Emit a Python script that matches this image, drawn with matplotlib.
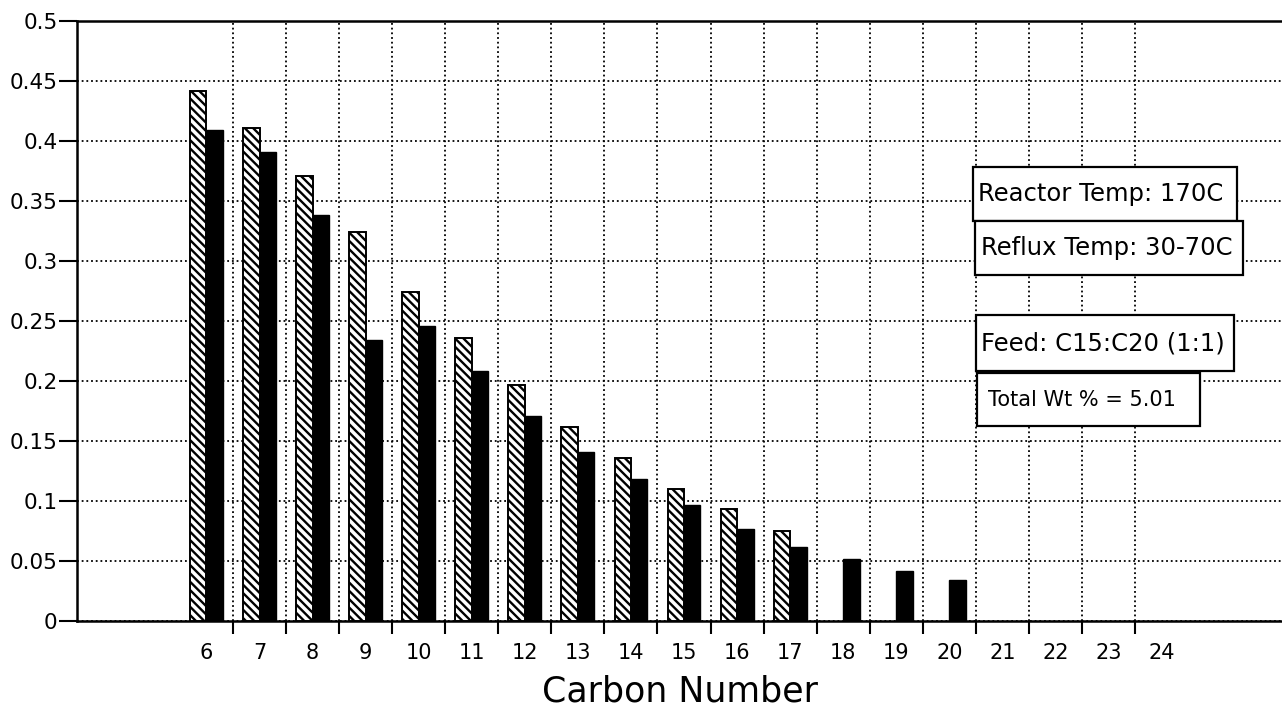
import matplotlib
matplotlib.use("Agg")
from matplotlib import pyplot as plt
from matplotlib.patches import Rectangle
from matplotlib.ticker import FixedLocator, FuncFormatter
import numpy as np

# carbon numbers shown on the axis
carbons = list(range(6, 25))

# hatched series (C6..C17) and solid black series (C6..C20)
hatched_c = list(range(6, 18))
hatched_v = [0.442, 0.411, 0.371, 0.324, 0.274, 0.236, 0.197, 0.162,
             0.136, 0.110, 0.093, 0.075]
black_c = list(range(6, 21))
black_v = [0.409, 0.391, 0.338, 0.234, 0.246, 0.208, 0.171, 0.141,
           0.118, 0.097, 0.077, 0.062, 0.052, 0.042, 0.034]

notes = ["Reactor Temp: 170C", "Reflux Temp: 30-70C",
         "Feed: C15:C20 (1:1)", "Total Wt % = 5.01"]

W, H = 1282, 708
plt.rcParams['font.family'] = ['DejaVu Sans']
plt.rcParams['hatch.linewidth'] = 1.7

fig = plt.figure(figsize=(W / 100, H / 100), dpi=100)
ax = fig.add_axes([77 / W, 1 - 621 / H, 1 - 77 / W, 600 / H])

bw = 0.31
ax.bar(np.array(hatched_c) - bw / 2, hatched_v, width=bw, color='white',
       edgecolor='black', hatch='\\\\\\\\', linewidth=1.4, zorder=3)
ax.bar(np.array(black_c) + bw / 2, black_v, width=bw, color='black',
       edgecolor='black', linewidth=1.0, zorder=3)

ax.set_xlim(3.56, 26.27)
ax.set_ylim(0, 0.5)

# labels sit at the category centres, ticks and grid between them
ax.xaxis.set_major_locator(FixedLocator(carbons))
ax.xaxis.set_minor_locator(FixedLocator(np.arange(6.5, 24, 1.0)))
ax.set_xticklabels([str(c) for c in carbons], fontsize=15)
ax.tick_params(axis='x', which='major', length=0, pad=16)
ax.tick_params(axis='x', which='minor', length=9, width=1.5, direction='out')

ax.yaxis.set_major_locator(FixedLocator(np.arange(0, 0.501, 0.05)))
ax.yaxis.set_major_formatter(FuncFormatter(lambda v, p: '%g' % round(v, 2)))
ax.tick_params(axis='y', length=13, width=1.5, pad=1, labelsize=15.5)

ax.set_axisbelow(True)
ax.grid(True, axis='y', which='major', color='black', linestyle=(0, (1, 1.6)), linewidth=1.3)
ax.grid(True, axis='x', which='minor', color='black', linestyle=(0, (1, 1.6)), linewidth=1.3)

for s in ['left', 'bottom', 'top']:
    ax.spines[s].set_linewidth(1.8)
ax.spines['right'].set_visible(False)

ax.set_xlabel('Carbon Number', fontsize=25, labelpad=8)

# annotation boxes (pixel boxes: x0, x1, y0, y1)
boxes = [(973, 1237, 167, 221), (975, 1243, 221, 275),
         (976, 1234, 315, 371), (977, 1200, 373, 426)]
sizes = [17.5, 17.5, 17.5, 15]
pads = [5, 6, 5, 11]
for (x0, x1, y0, y1), txt, fs, pd in zip(boxes, notes, sizes, pads):
    fig.add_artist(Rectangle((x0 / W, 1 - y1 / H), (x1 - x0) / W, (y1 - y0) / H,
                             transform=fig.transFigure, facecolor='white',
                             edgecolor='black', linewidth=1.6, zorder=5))
    fig.text((x0 + pd) / W, 1 - (y0 + y1) / 2 / H, txt, fontsize=fs,
             va='center', ha='left', zorder=6)

fig.savefig('out.png', dpi=100)
